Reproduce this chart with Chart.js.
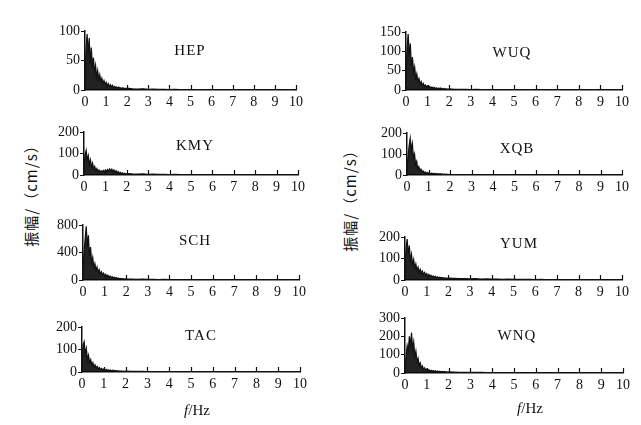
<!DOCTYPE html>
<html>
<head>
<meta charset="utf-8">
<script src="https://cdn.jsdelivr.net/npm/chart.js@4.4.1/dist/chart.umd.min.js"></script>
<style>
  html, body { margin: 0; padding: 0; background: #fff; }
  #wrap { position: relative; width: 641px; height: 425px; overflow: hidden; background: #fff; filter: blur(0.5px); }
  canvas { position: absolute; }
  .lbl { position: absolute; font-family: "Liberation Serif", serif; color: #111; white-space: nowrap; transform: translate(-50%, -50%); }
  .st { font-size: 15px; letter-spacing: 1px; }
  .fx { font-size: 15px; }
  .yt { font-family: "Noto Sans CJK SC", sans-serif; font-size: 15px; transform: translate(-50%, -50%) rotate(-90deg); letter-spacing: 1px; }
</style>
</head>
<body>
<div id="wrap"></div>
<script>
// Frequency axis (Hz)
const freq = [0,0.05,0.1,0.15,0.2,0.25,0.3,0.35,0.4,0.45,0.5,0.55,0.6,0.65,0.7,0.75,0.8,0.85,0.9,0.95,1,1.05,1.1,1.15,1.2,1.25,1.3,1.35,1.4,1.45,1.5,1.55,1.6,1.65,1.7,1.75,1.8,1.85,1.9,1.95,2,
  2.25,2.5,2.75,3,3.25,3.5,3.75,4,4.25,4.5,4.75,5,5.25,5.5,5.75,6,6.25,6.5,6.75,7,7.25,7.5,7.75,8,8.25,8.5,8.75,9,9.25,9.5,9.75,10];
const xTicks = [0,1,2,3,4,5,6,7,8,9,10];

// Station names
const stations = ["HEP","WUQ","KMY","XQB","SCH","YUM","TAC","WNQ"];

// Amplitude spectra (cm/s)
const ampHEP = [20,70,95,60,88,45,72,38,55,30,42,22,33,18,26,14,20,11,16,9,13,7,11,6,9,5,8,4,6,4,5,3,5,3,4,2,4,2,3,2,3,
  2,1.5,2,1,1.5,1,1,0.8,1,0.6,0.8,0.5,0.7,0.5,0.6,0.4,0.5,0.4,0.5,0.3,0.4,0.3,0.4,0.3,0.3,0.2,0.3,0.2,0.3,0.2,0.2,0.2];
const ampWUQ = [30,110,145,90,120,60,85,45,60,30,42,22,30,16,22,12,17,10,13,8,11,6,9,5,8,4,7,4,6,3,5,3,5,3,4,2,4,2,3,2,3,
  2,1.5,2,1.2,1.5,1,1.2,0.8,1,0.7,0.8,0.6,0.7,0.5,0.6,0.5,0.5,0.4,0.5,0.4,0.4,0.3,0.4,0.3,0.3,0.3,0.3,0.2,0.3,0.2,0.2,0.2];
const ampKMY = [40,95,115,70,90,50,70,35,55,28,40,20,30,15,24,12,20,14,22,15,24,16,26,18,28,17,27,15,24,12,20,10,16,8,12,6,10,5,8,4,7,
  5,4,5,3,4,3,3,2,2.5,2,2,1.5,2,1.5,1.5,1,1.2,1,1,0.8,1,0.8,0.8,0.6,0.7,0.5,0.6,0.5,0.5,0.4,0.4,0.4];
const ampXQB = [30,90,140,175,120,150,80,100,50,65,30,40,20,28,14,20,10,15,8,12,7,10,6,9,5,8,5,7,4,6,4,6,3,5,3,4,3,4,2,3,2,
  2,2,1.5,1.5,1.2,1,1,0.8,0.8,0.7,0.6,0.6,0.5,0.5,0.5,0.4,0.4,0.4,0.3,0.3,0.3,0.3,0.3,0.2,0.2,0.2,0.2,0.2,0.2,0.2,0.2,0.2];
const ampSCH = [100,420,600,780,480,650,350,480,250,330,180,240,140,190,110,150,90,120,75,100,60,85,50,70,42,58,35,48,30,40,25,34,21,28,18,24,15,20,13,17,12,
  14,10,12,8,10,7,8,6,7,5,6,5,5,4,5,4,4,3,4,3,3,3,3,2,3,2,2,2,2,2,2,2];
const ampYUM = [60,150,190,120,160,90,120,70,95,55,75,45,60,36,50,30,42,25,35,22,30,18,26,16,22,14,19,12,17,11,15,10,13,9,12,8,11,7,10,7,9,
  8,6,7,5,6,4,5,4,4,3,4,3,3,3,3,2,3,2,2,2,2,2,2,1.5,1.5,1.5,1.5,1,1,1,1,1];
const ampTAC = [50,120,135,80,105,55,75,40,55,30,42,22,32,18,25,14,20,11,16,9,14,8,12,7,10,6,9,5,8,5,7,4,6,4,5,3,5,3,4,3,4,
  3,3,2.5,2,2,2,1.5,1.5,1.5,1.2,1.2,1,1,1,0.8,0.8,0.8,0.7,0.7,0.6,0.6,0.5,0.5,0.5,0.5,0.4,0.4,0.4,0.4,0.3,0.3,0.3];
const ampWNQ = [30,90,150,120,200,150,220,130,170,90,120,60,80,40,55,28,38,20,28,15,22,12,18,10,15,9,13,8,12,7,11,6,10,6,9,5,8,5,7,4,6,
  5,4,4,3,3,3,2.5,2,2,2,2,1.5,1.5,1.5,1.2,1.2,1,1,1,1,0.8,0.8,0.8,0.7,0.7,0.6,0.6,0.5,0.5,0.5,0.5,0.5];

// Y-axis tick labels per panel
const yTicksList = [
  [0,50,100],
  [0,50,100,150],
  [0,100,200],
  [0,100,200],
  [0,400,800],
  [0,100,200],
  [0,100,200],
  [0,100,200,300]
];
const series = [ampHEP, ampWUQ, ampKMY, ampXQB, ampSCH, ampYUM, ampTAC, ampWNQ];

// Panel plot-area geometry (layout only)
const panels = [
  {l:85,  r:296, t:31,  b:90,  tx:190, ty:50},
  {l:406, r:622, t:32,  b:90,  tx:512, ty:52},
  {l:84,  r:298, t:132, b:175, tx:195, ty:145},
  {l:407, r:622, t:133, b:175, tx:517, ty:148},
  {l:83,  r:299, t:225, b:280, tx:195, ty:240},
  {l:405, r:622, t:237, b:280, tx:519, ty:243},
  {l:82,  r:300, t:327, b:372, tx:201, ty:335},
  {l:405, r:623, t:318, b:373, tx:517, ty:335}
];

const wrap = document.getElementById('wrap');
const PADL = 40, PADT = 10, PADR = 14, PADB = 22;

const innerTicks = {
  id: 'innerTicks',
  afterDatasetsDraw(chart) {
    const xs = chart.scales.x, ctx = chart.ctx, bottom = chart.chartArea.bottom;
    ctx.save();
    ctx.strokeStyle = '#111';
    ctx.lineWidth = 1.2;
    xTicks.forEach(v => {
      if (v === 0) return;
      const px = Math.round(xs.getPixelForValue(v)) + 0.5;
      ctx.beginPath();
      ctx.moveTo(px, bottom);
      ctx.lineTo(px, bottom - 5);
      ctx.stroke();
    });
    ctx.restore();
  }
};

panels.forEach((p, i) => {
  const cv = document.createElement('canvas');
  const w = (p.r - p.l) + PADL + PADR;
  const h = (p.b - p.t) + PADT + PADB;
  cv.width = w; cv.height = h;
  cv.style.left = (p.l - PADL) + 'px';
  cv.style.top = (p.t - PADT) + 'px';
  cv.style.width = w + 'px';
  cv.style.height = h + 'px';
  wrap.appendChild(cv);

  const yt = yTicksList[i];
  const pts = freq.map((f, k) => ({x: f, y: series[i][k]}));
  new Chart(cv, {
    type: 'line',
    data: { datasets: [{
      data: pts,
      borderColor: '#111',
      borderWidth: 1.2,
      backgroundColor: 'rgba(10,10,10,0.9)',
      fill: 'origin',
      pointRadius: 0,
      tension: 0
    }]},
    options: {
      responsive: false,
      animation: false,
      events: [],
      layout: { padding: {left: 0, top: PADT, right: PADR, bottom: 0} },
      plugins: { legend: {display: false}, tooltip: {enabled: false} },
      scales: {
        x: {
          type: 'linear', min: 0, max: 10,
          afterFit: s => { s.height = PADB; },
          afterBuildTicks: s => { s.ticks = xTicks.map(v => ({value: v})); },
          grid: { drawOnChartArea: false, drawTicks: false },
          border: { display: true, color: '#111', width: 1.5 },
          ticks: { color: '#111', padding: 4, maxRotation: 0, autoSkip: false,
                   font: {family: 'Liberation Serif', size: 14} }
        },
        y: {
          min: yt[0], max: yt[yt.length - 1],
          afterFit: s => { s.width = PADL; },
          afterBuildTicks: s => { s.ticks = yt.map(v => ({value: v})); },
          grid: { drawOnChartArea: false, drawTicks: true, tickLength: 4, color: '#111', lineWidth: 1 },
          border: { display: true, color: '#111', width: 1.5 },
          ticks: { color: '#111', padding: 1, autoSkip: false,
                   font: {family: 'Liberation Serif', size: 14} }
        }
      }
    },
    plugins: [innerTicks]
  });

  const t = document.createElement('div');
  t.className = 'lbl st';
  t.textContent = stations[i];
  t.style.left = p.tx + 'px';
  t.style.top = p.ty + 'px';
  wrap.appendChild(t);
});

function addLabel(cls, html, x, y) {
  const d = document.createElement('div');
  d.className = 'lbl ' + cls;
  d.innerHTML = html;
  d.style.left = x + 'px';
  d.style.top = y + 'px';
  wrap.appendChild(d);
}
addLabel('yt', '振幅/（cm/s）', 30, 192);
addLabel('yt', '振幅/（cm/s）', 349, 197);
addLabel('fx', '<i>f</i>/Hz', 197, 410);
addLabel('fx', '<i>f</i>/Hz', 530, 408);
</script>
</body>
</html>
